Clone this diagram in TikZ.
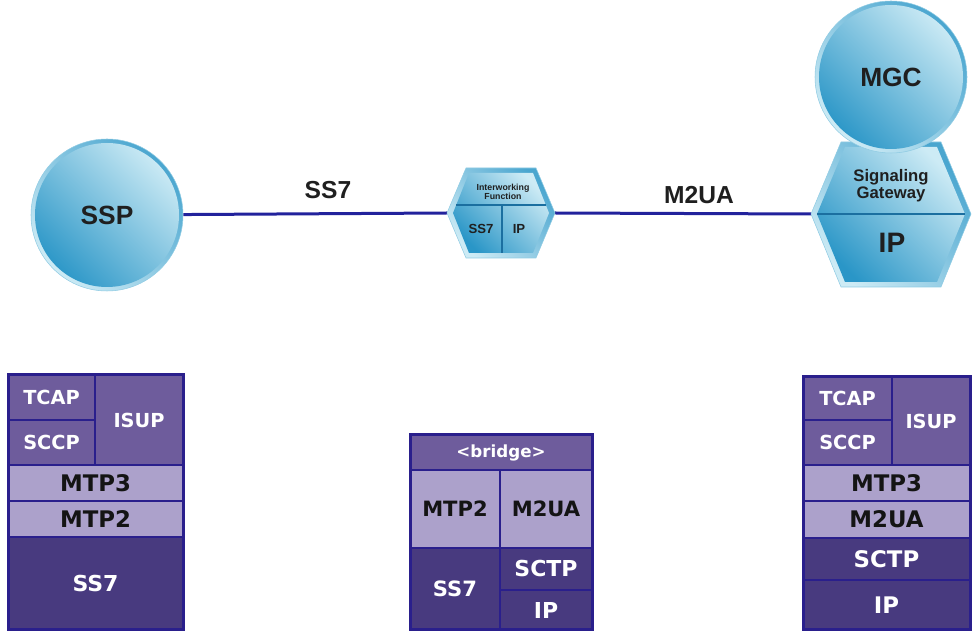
\documentclass[tikz,border=0pt]{standalone}
\usepackage{fontspec}
\setmainfont{Liberation Sans}
\newfontfamily\stackfont{DejaVu Sans}
\definecolor{sgLine}{HTML}{22229C}
\definecolor{sgDark}{HTML}{2A96C7}
\definecolor{sgLight}{HTML}{CDEBF5}
\definecolor{sgRim}{HTML}{8FCBE3}
\definecolor{sgEdge}{HTML}{1B6FA0}
\definecolor{stFrame}{HTML}{2A1F8C}
\definecolor{stMid}{HTML}{6E5C9C}
\definecolor{stPale}{HTML}{ACA1CB}
\definecolor{stDeep}{HTML}{483A7F}
\colorlet{stMidText}{white}
\colorlet{stPaleText}{black!92}
\colorlet{stDeepText}{white}
\newcommand{\stsize}[1]{\fontsize{#1}{#1}\selectfont}
% one layer of a protocol stack: name, tone, x1, y1, x2, y2, text
\newcommand{\stlayer}[7]{%
  \draw[st cell, fill=st#2] (#3,#4) rectangle (#5,#6);
  \node[st label, text=st#2Text] (#1) at ({(#3+#5)/2},{(#4+#6)/2}) {#7};}
\tikzset{
  sg link/.style={draw=sgLine, line width=0.6mm},
  sg rim/.style={draw=sgRim, line width=0.3pt, top color=sgDark!85, bottom color=sgLight, shading angle=-45},
  sg face/.style={top color=sgLight, bottom color=sgDark, shading angle=-45},
  sg divider/.style={draw=sgEdge, line width=0.35mm},
  sg label/.style={font=\bfseries, text=black!88, inner sep=0pt, align=center},
  st cell/.style={draw=stFrame, line width=0.4mm},
  st frame/.style={draw=stFrame, line width=0.6mm},
  st label/.style={font=\stackfont\bfseries, inner sep=0pt},
}

\begin{document}
\begin{tikzpicture}[
  x=0.2mm, y=-0.2mm,
  hub/.style={sg rim, circle, minimum size=30.4mm, inner sep=0pt,
    path picture={\shade[sg face] (path picture bounding box.center) circle (14.4mm);},
    sg label, font=\bfseries\stsize{15}}
]
  \useasboundingbox (0,0) rectangle (972,632);

  % network elements
  \node[hub] (ssp) at (107,215) {SSP};
  \coordinate (iwfW) at (447,213);
  \coordinate (iwfE) at (555,213);
  \coordinate (sgW) at (811,214);

  \draw[sg link] (ssp) -- (iwfW);
  \draw[sg link] (iwfE) -- (sgW);
  \node[sg label, font=\bfseries\stsize{14}] (lblSS7) at (328,190) {SS7};
  \node[sg label, font=\bfseries\stsize{14}] (lblM2UA) at (699,195) {M2UA};

  % interworking function
  \path[sg rim] (iwfW) -- (466,168) -- (536,168) -- (iwfE) -- (536,258) -- (466,258) -- cycle;
  \path[sg face] (453,213) -- (469,173) -- (533,173) -- (549,213) -- (533,253) -- (469,253) -- cycle;
  \draw[sg divider] (456,205) -- (546,205);
  \draw[sg divider] (502,205) -- (502,253);
  \node[sg label, font=\bfseries\stsize{5}] (iwfTitle) at (503,192) {Interworking\\Function};
  \node[sg label, font=\bfseries\stsize{7.5}] (iwfSS7) at (481,229) {SS7};
  \node[sg label, font=\bfseries\stsize{7.5}] (iwfIP) at (519,229) {IP};

  % signaling gateway and MGC
  \path[sg rim] (sgW) -- (841,142) -- (941,142) -- (971,214) -- (941,287) -- (841,287) -- cycle;
  \path[sg face] (817,214) -- (845,147) -- (937,147) -- (965,214) -- (937,282) -- (845,282) -- cycle;
  \draw[sg divider] (817,214) -- (965,214);
  \node[sg label, font=\bfseries\fontsize{9.5}{9.8}\selectfont] (sgTitle) at (891,186) {Signaling\\Gateway};
  \node[sg label, font=\bfseries\stsize{16}] (sgIP) at (892,243) {IP};
  \node[hub] (mgc) at (891,77) {MGC};

  % SSP stack
  \stlayer{sspTCAP}{Mid}{8}{375}{95}{420}{\stsize{11}TCAP}
  \stlayer{sspSCCP}{Mid}{8}{420}{95}{465}{\stsize{11}SCCP}
  \stlayer{sspISUP}{Mid}{95}{375}{183}{465}{\stsize{11}ISUP}
  \stlayer{sspMTP3}{Pale}{8}{465}{183}{501}{\stsize{13}MTP3}
  \stlayer{sspMTP2}{Pale}{8}{501}{183}{537}{\stsize{13}MTP2}
  \stlayer{sspSS7}{Deep}{8}{537}{183}{630}{\stsize{12.5}SS7}
  \draw[st frame] (8,375) rectangle (183,630);

  % interworking stack
  \stlayer{iwfBridge}{Mid}{410}{435}{592}{470}{\stsize{9.5}<bridge>}
  \stlayer{iwfMTP2}{Pale}{410}{470}{500}{548}{\stsize{12}MTP2}
  \stlayer{iwfM2UA}{Pale}{500}{470}{592}{548}{\stsize{12}M2UA}
  \stlayer{iwfSS7st}{Deep}{410}{548}{500}{630}{\stsize{12}SS7}
  \stlayer{iwfSCTP}{Deep}{500}{548}{592}{590}{\stsize{12.5}SCTP}
  \stlayer{iwfIPst}{Deep}{500}{590}{592}{630}{\stsize{12.5}IP}
  \draw[st frame] (410,435) rectangle (592,630);

  % MGC stack
  \stlayer{mgcTCAP}{Mid}{803}{377}{892}{420}{\stsize{11}TCAP}
  \stlayer{mgcSCCP}{Mid}{803}{420}{892}{465}{\stsize{11}SCCP}
  \stlayer{mgcISUP}{Mid}{892}{377}{970}{465}{\stsize{11}ISUP}
  \stlayer{mgcMTP3}{Pale}{803}{465}{970}{501}{\stsize{13}MTP3}
  \stlayer{mgcM2UA}{Pale}{803}{501}{970}{538}{\stsize{13}M2UA}
  \stlayer{mgcSCTP}{Deep}{803}{538}{970}{580}{\stsize{13}SCTP}
  \stlayer{mgcIP}{Deep}{803}{580}{970}{630}{\stsize{13}IP}
  \draw[st frame] (803,377) rectangle (970,630);
\end{tikzpicture}
\end{document}
